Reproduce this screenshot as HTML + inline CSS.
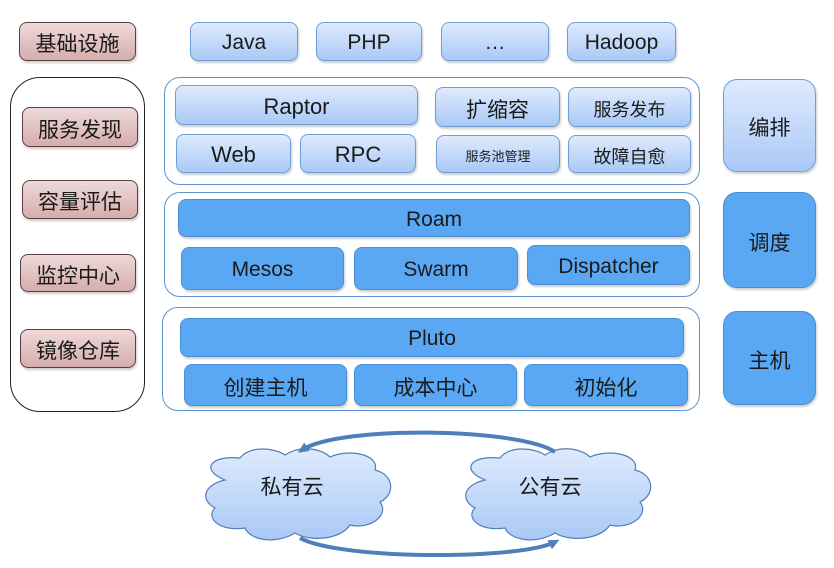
<!DOCTYPE html><html><head><meta charset="utf-8"><style>
body{margin:0;width:834px;height:568px;background:#fff;position:relative;overflow:hidden;font-family:"Liberation Sans","Noto Sans CJK SC",sans-serif}
.b{position:absolute;box-sizing:border-box;display:flex;align-items:center;justify-content:center;color:#1a1a1a;font-size:21px;border-radius:8px;padding-top:3px}
.l{background:linear-gradient(#dfeafd,#a9c9f6);border:1px solid #6f9ed6;box-shadow:1px 2px 2px rgba(0,0,0,.2)}
.s{background:#5aa8f4;border:1px solid #4a8fd6;box-shadow:1px 2px 2px rgba(0,0,0,.2)}
.p{background:linear-gradient(#efd9d9,#d5adad);border:1px solid #5a4040;box-shadow:1px 2px 2px rgba(0,0,0,.2)}
.g{position:absolute;box-sizing:border-box;border:1px solid #5d93d0;border-radius:16px}
</style></head><body>
<div class="b p" style="left:19px;top:22px;width:117px;height:39px">基础设施</div>
<div class="b l" style="left:190px;top:22px;width:108px;height:39px">Java</div>
<div class="b l" style="left:316px;top:22px;width:106px;height:39px">PHP</div>
<div class="b l" style="left:441px;top:22px;width:108px;height:39px">…</div>
<div class="b l" style="left:567px;top:22px;width:109px;height:39px">Hadoop</div>

<div class="g" style="left:10px;top:77px;width:135px;height:335px;border-color:#222;border-radius:30px"></div>
<div class="b p" style="left:22px;top:107px;width:116px;height:40px">服务发现</div>
<div class="b p" style="left:22px;top:180px;width:116px;height:39px">容量评估</div>
<div class="b p" style="left:20px;top:254px;width:116px;height:38px">监控中心</div>
<div class="b p" style="left:20px;top:329px;width:116px;height:39px">镜像仓库</div>

<div class="g" style="left:164px;top:77px;width:536px;height:108px"></div>
<div class="b l" style="left:175px;top:85px;width:243px;height:40px;font-size:22px">Raptor</div>
<div class="b l" style="left:176px;top:134px;width:115px;height:39px;font-size:22px">Web</div>
<div class="b l" style="left:300px;top:134px;width:116px;height:39px;font-size:22px">RPC</div>
<div class="b l" style="left:435px;top:87px;width:125px;height:40px">扩缩容</div>
<div class="b l" style="left:568px;top:87px;width:123px;height:40px;font-size:18px">服务发布</div>
<div class="b l" style="left:436px;top:135px;width:124px;height:38px;font-size:13px">服务池管理</div>
<div class="b l" style="left:568px;top:135px;width:123px;height:38px;font-size:18px">故障自愈</div>
<div class="b l" style="left:723px;top:79px;width:93px;height:93px;border-radius:14px">编排</div>

<div class="g" style="left:164px;top:192px;width:536px;height:105px"></div>
<div class="b s" style="left:178px;top:199px;width:512px;height:38px">Roam</div>
<div class="b s" style="left:181px;top:247px;width:163px;height:43px">Mesos</div>
<div class="b s" style="left:354px;top:247px;width:164px;height:43px">Swarm</div>
<div class="b s" style="left:527px;top:245px;width:163px;height:40px">Dispatcher</div>
<div class="b s" style="left:723px;top:192px;width:93px;height:96px;border-radius:14px">调度</div>

<div class="g" style="left:162px;top:307px;width:538px;height:104px"></div>
<div class="b s" style="left:180px;top:318px;width:504px;height:39px">Pluto</div>
<div class="b s" style="left:184px;top:364px;width:163px;height:42px">创建主机</div>
<div class="b s" style="left:354px;top:364px;width:163px;height:42px">成本中心</div>
<div class="b s" style="left:524px;top:364px;width:164px;height:42px">初始化</div>
<div class="b s" style="left:723px;top:311px;width:93px;height:94px;border-radius:14px">主机</div>

<svg style="position:absolute;left:0;top:0" width="834" height="568">
<defs><linearGradient id="cg" x1="0" y1="0" x2="0" y2="1"><stop offset="0" stop-color="#dfeafd"/><stop offset="1" stop-color="#a9c9f6"/></linearGradient>
<marker id="ar" markerUnits="userSpaceOnUse" markerWidth="12" markerHeight="12" refX="6" refY="6" orient="auto"><path d="M0,1L11,6L0,11z" fill="#4f7fb8"/></marker></defs>
<g fill="url(#cg)" stroke="#4f7fb8" stroke-width="1.2">
<path d="M225,480 C200,470 210,455 240,458 C250,445 275,448 285,455 C300,445 320,448 330,457 C350,448 380,455 375,470 C395,475 395,495 380,502 C390,515 370,530 350,525 C340,540 310,542 295,533 C275,545 250,540 245,528 C220,532 205,518 215,508 C200,500 203,485 225,480z"/>
<path d="M485,480 C460,470 470,455 500,458 C510,445 535,448 545,455 C560,445 580,448 590,457 C610,448 640,455 635,470 C655,475 655,495 640,502 C650,515 630,530 610,525 C600,540 570,542 555,533 C535,545 510,540 505,528 C480,532 465,518 475,508 C460,500 463,485 485,480z"/>
</g>
<path d="M555,452 C520,428 340,425 302,450" fill="none" stroke="#4f7fb8" stroke-width="4" marker-end="url(#ar)"/>
<path d="M300,538 C340,560 520,560 555,542" fill="none" stroke="#4f7fb8" stroke-width="4" marker-end="url(#ar)"/>
<text x="292" y="494" font-size="21" text-anchor="middle" font-family="Liberation Sans,Noto Sans CJK SC,sans-serif" fill="#1a1a1a">私有云</text>
<text x="550" y="494" font-size="21" text-anchor="middle" font-family="Liberation Sans,Noto Sans CJK SC,sans-serif" fill="#1a1a1a">公有云</text>
</svg>
</body></html>
